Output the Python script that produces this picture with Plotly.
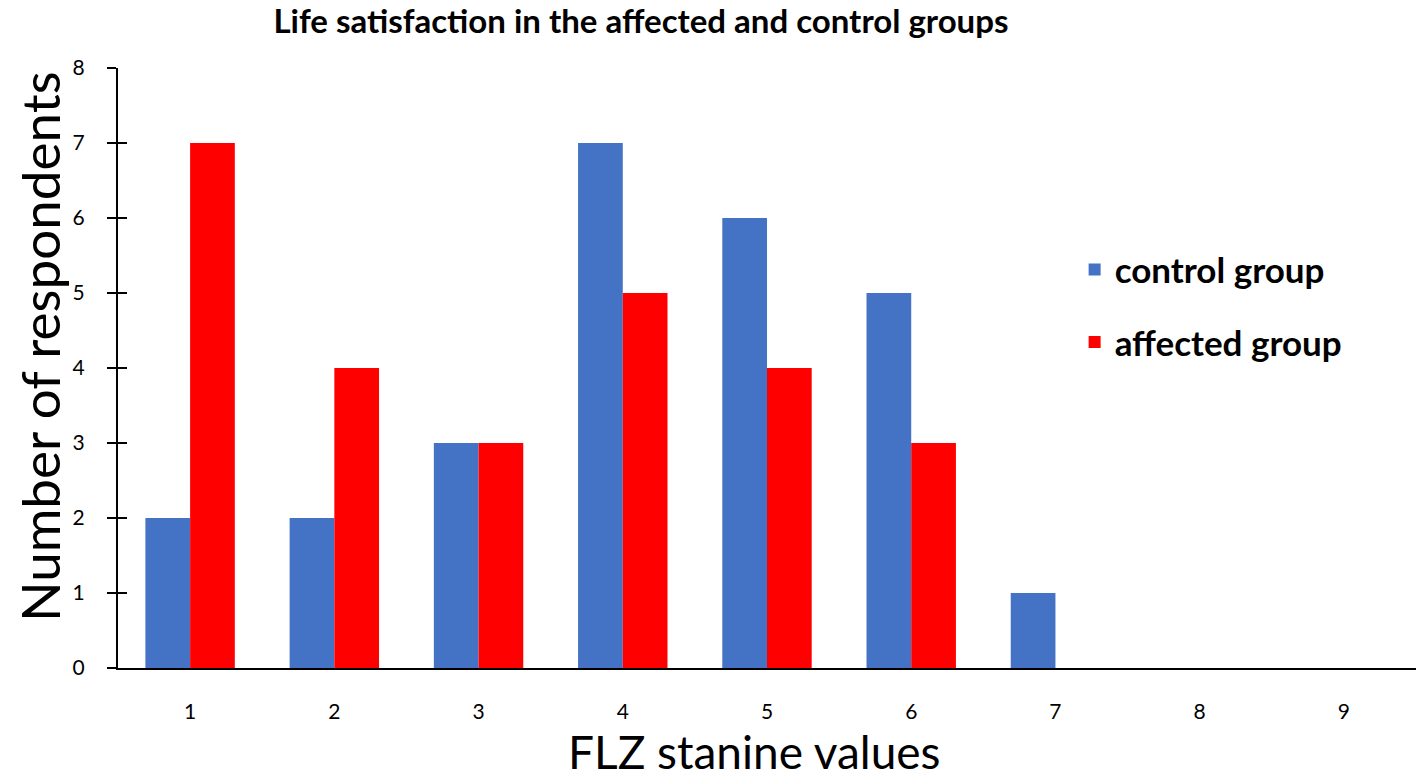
import plotly.graph_objects as go

categories = ["1", "2", "3", "4", "5", "6", "7", "8", "9"]
control_group = [2, 2, 3, 7, 6, 5, 1, 0, 0]
affected_group = [7, 4, 3, 5, 4, 3, 0, 0, 0]
y_ticks = [0, 1, 2, 3, 4, 5, 6, 7, 8]

fig = go.Figure()
fig.add_trace(go.Bar(x=categories, y=control_group, name="<b>control group</b>",
                     marker=dict(color="#4472C4", line=dict(width=0)), legendgroup="a"))
fig.add_trace(go.Bar(x=categories, y=affected_group, name="<b>affected group</b>",
                     marker=dict(color="#FF0000", line=dict(width=0)), legendgroup="b"))
# helper trace so the overlaying axis (inner half of crossing ticks) is drawn
fig.add_trace(go.Scatter(x=[], y=[], yaxis="y2", showlegend=False, hoverinfo="skip"))

fig.update_layout(
    width=1418, height=780,
    margin=dict(l=118, r=2, t=68, b=112, autoexpand=False),
    paper_bgcolor="white", plot_bgcolor="white",
    barmode="group", bargap=0.38, bargroupgap=0,
    title=dict(text="<b>Life satisfaction in the affected and control groups</b>",
               x=0.452, xanchor="center", y=0.972, yanchor="middle",
               font=dict(family="Lato", size=33, color="black"), automargin=False),
    font=dict(family="Lato", color="black"),
    legend=dict(x=0.737, y=0.713, xanchor="left", yanchor="top",
                font=dict(family="Lato", size=35, color="black"),
                tracegroupgap=24, itemwidth=30, bgcolor="rgba(0,0,0,0)"),
    xaxis=dict(type="category", showline=True, linecolor="black", linewidth=2,
               ticks="", tickfont=dict(size=21, family="Lato"),
               ticklabelstandoff=24, automargin=False,
               showgrid=False, zeroline=False),
    yaxis=dict(range=[0, 8], tickvals=y_ticks, showline=True, linecolor="black", linewidth=2,
               ticks="outside", ticklen=9, tickwidth=2, tickcolor="black",
               tickfont=dict(size=21, family="Lato"), ticklabelstandoff=18, automargin=False,
               showgrid=False, zeroline=False),
    yaxis2=dict(range=[0, 8], tickvals=y_ticks, overlaying="y", side="left",
                showline=False, ticks="inside", ticklen=9, tickwidth=2, tickcolor="black",
                showticklabels=False, showgrid=False, zeroline=False),
    annotations=[
        dict(text="Number of respondents", textangle=-90,
             xref="paper", yref="paper", x=-0.061, y=0.535,
             xanchor="center", yanchor="middle", showarrow=False,
             font=dict(size=53, family="Lato", color="black")),
        dict(text="FLZ stanine values",
             xref="paper", yref="paper", x=0.49, y=-0.1865,
             xanchor="center", yanchor="bottom", showarrow=False, borderpad=0,
             font=dict(size=46, family="Lato", color="black")),
    ],
)

fig.write_html("out.html", config={"displayModeBar": False},
               post_script="document.body.style.margin='0';")
